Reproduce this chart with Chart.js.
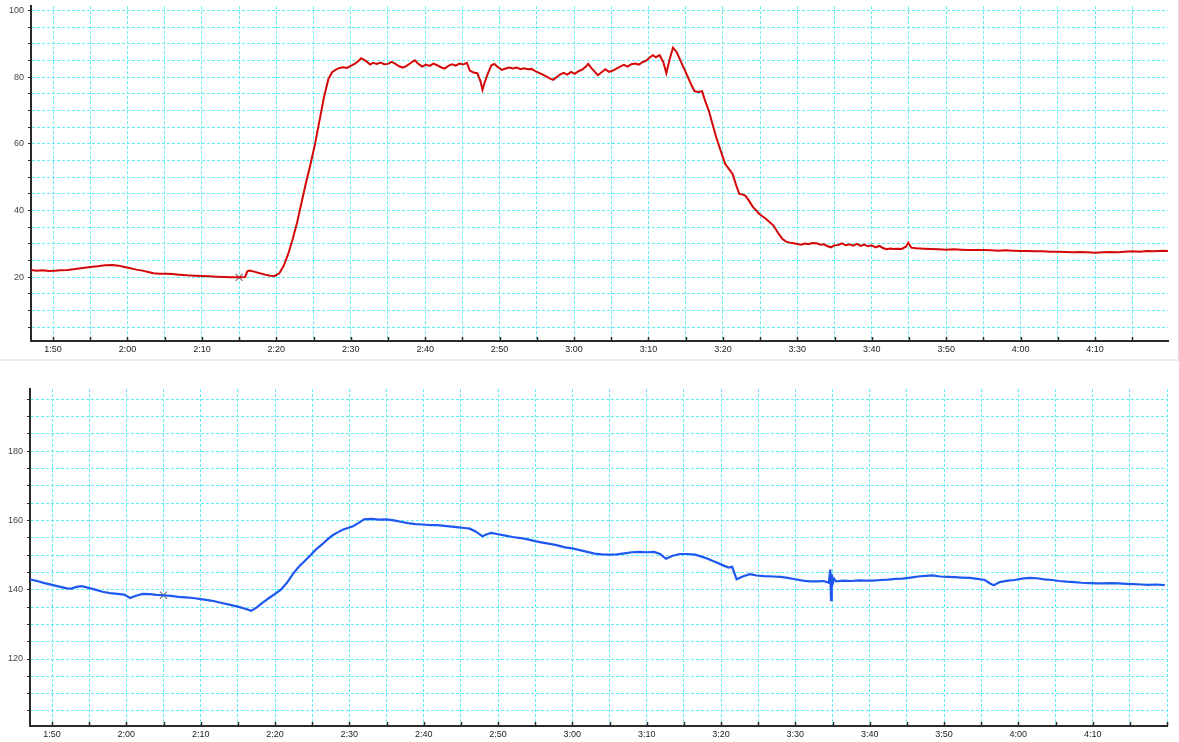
<!DOCTYPE html>
<html>
<head>
<meta charset="utf-8">
<script src="https://cdn.jsdelivr.net/npm/chart.js@4"></script>
<style>
  html, body { margin: 0; padding: 0; background: #fff; }
  #page { position: relative; width: 1179px; height: 742px; overflow: hidden; }
  #topPanel { position: absolute; left: 0; top: 0; width: 1178px; height: 359px;
              border-right: 1px solid #dcdcdc; border-bottom: 2px solid #ececec; }
  #topChart { position: absolute; left: 0; top: 0; }
  #bottomChart { position: absolute; left: 0; top: 362px; }
</style>
</head>
<body>
<div id="page">
  <div id="topPanel"><canvas id="topChart" width="1178" height="358"></canvas></div>
  <canvas id="bottomChart" width="1179" height="380"></canvas>
</div>
<script>
// Time axis labels (h:mm), one every 10 minutes
const timeLabels = ['1:50', '2:00', '2:10', '2:20', '2:30', '2:40', '2:50', '3:00',
                    '3:10', '3:20', '3:30', '3:40', '3:50', '4:00', '4:10'];
// Value axis labels
const upperAxisLabels = [20, 40, 60, 80, 100];
const lowerAxisLabels = [120, 140, 160, 180];

// Upper trace: minutes after midnight / reading
const redMinutes = [
  107.0, 107.8, 108.6, 109.4, 110.2, 111.0, 112.0, 113.0, 114.0, 115.0, 116.0, 117.0, 118.0, 118.8, 119.6,
  120.4, 121.2, 122.0, 122.8, 123.5, 124.3, 125.2, 126.0, 127.0, 128.0, 129.0, 130.0, 131.0, 132.0, 133.0,
  134.0, 135.0, 135.8, 136.1, 136.4, 137.0, 137.8, 138.5, 139.2, 139.8, 140.4, 141.0, 141.6, 142.2, 142.8,
  143.4, 144.0, 144.6, 145.2, 145.8, 146.4, 147.0, 147.5, 148.0, 148.5, 149.0, 149.5, 150.0, 150.5, 151.0,
  151.4, 151.8, 152.2, 152.6, 153.0, 153.5, 154.0, 154.5, 155.0, 155.5, 156.0, 156.5, 157.0, 157.5, 158.0,
  158.6, 159.1, 159.6, 160.1, 160.6, 161.1, 161.6, 162.1, 162.6, 163.1, 163.6, 164.1, 164.6, 165.1, 165.6,
  166.0, 166.5, 167.0, 167.4, 167.7, 168.0, 168.4, 168.9, 169.3, 169.8, 170.3, 170.8, 171.3, 171.8, 172.3,
  172.8, 173.3, 173.8, 174.3, 174.8, 175.3, 175.8, 176.3, 176.8, 177.2, 177.6, 178.1, 178.6, 179.1, 179.6,
  180.1, 180.6, 181.1, 181.6, 181.9, 182.3, 182.8, 183.2, 183.7, 184.2, 184.7, 185.2, 185.7, 186.2, 186.7,
  187.2, 187.7, 188.2, 188.7, 189.2, 189.7, 190.2, 190.6, 191.0, 191.5, 192.0, 192.4, 192.8, 193.3, 193.8,
  194.3, 194.8, 195.3, 195.8, 196.2, 196.7, 197.2, 197.6, 198.1, 198.6, 199.1, 199.7, 200.3, 200.8, 201.3,
  201.8, 202.2, 202.7, 203.0, 203.5, 204.0, 204.9, 205.8, 206.8, 207.5, 208.0, 208.5, 209.0, 209.5, 210.0,
  210.5, 211.0, 211.5, 212.0, 212.6, 213.1, 213.6, 214.0, 214.5, 215.0, 215.5, 216.0, 216.5, 217.0, 217.5,
  218.0, 218.5, 219.0, 219.5, 220.0, 220.5, 221.0, 221.5, 222.0, 222.5, 223.0, 223.5, 224.0, 224.6, 224.9,
  225.3, 226.0, 227.0, 228.0, 229.0, 230.0, 231.0, 232.0, 233.0, 234.0, 235.0, 236.0, 237.0, 238.0, 239.0,
  240.0, 241.0, 242.0, 243.0, 244.0, 245.0, 246.0, 247.0, 248.0, 249.0, 250.0, 251.0, 252.0, 253.0, 254.0,
  255.0, 256.0, 257.0, 258.0, 259.0, 259.8
];
const redValues = [
  22.2, 22.0, 22.1, 21.9, 22.0, 22.1, 22.2, 22.5, 22.8, 23.1, 23.3, 23.6, 23.7, 23.5, 23.1,
  22.7, 22.3, 22.0, 21.6, 21.2, 21.1, 21.1, 21.0, 20.8, 20.6, 20.5, 20.4, 20.3, 20.2, 20.1,
  20.0, 20.0, 20.1, 21.8, 22.0, 21.7, 21.2, 20.8, 20.5, 20.4, 21.2, 23.5, 27.0, 31.5, 36.5,
  42.5, 48.5, 54.0, 60.0, 67.0, 74.0, 79.5, 81.5, 82.3, 82.8, 83.0, 82.8, 83.4, 84.0, 84.8,
  85.7, 85.2, 84.6, 83.8, 84.3, 84.0, 84.4, 83.9, 84.0, 84.6, 84.0, 83.3, 82.9, 83.4, 84.2,
  85.1, 84.0, 83.2, 83.8, 83.4, 84.1, 83.6, 83.0, 82.6, 83.4, 83.9, 83.5, 84.1, 83.8, 84.3,
  82.0, 81.4, 81.2, 79.0, 76.2, 78.5, 81.0, 83.6, 84.0, 83.0, 82.2, 82.6, 82.9, 82.6, 82.9,
  82.4, 82.7, 82.4, 82.5, 81.8, 81.3, 80.8, 80.2, 79.6, 79.2, 79.9, 80.8, 81.3, 80.8, 81.6,
  81.0, 81.8, 82.3, 83.2, 84.0, 82.8, 81.6, 80.6, 81.5, 82.4, 81.6, 82.0, 82.6, 83.2, 83.7,
  83.2, 83.9, 84.1, 83.8, 84.5, 85.0, 86.0, 86.6, 86.0, 86.6, 84.5, 81.2, 85.0, 88.9, 87.5,
  85.0, 82.5, 80.0, 77.5, 75.8, 75.6, 75.8, 73.0, 70.0, 66.0, 62.0, 58.0, 54.0, 52.5, 51.0,
  47.5, 45.0, 44.8, 44.5, 43.0, 41.2, 39.0, 37.5, 35.5, 33.0, 31.5, 30.7, 30.4, 30.2, 30.0,
  29.8, 30.1, 29.9, 30.3, 30.2, 29.8, 29.9, 29.4, 29.0, 29.6, 29.7, 30.2, 29.6, 29.9, 29.5,
  30.0, 29.4, 29.8, 29.3, 29.6, 29.0, 29.4, 28.8, 28.4, 28.6, 28.5, 28.6, 28.5, 29.2, 30.4,
  28.9, 28.7, 28.6, 28.5, 28.4, 28.3, 28.4, 28.3, 28.2, 28.2, 28.2, 28.1, 28.0, 28.1, 28.0,
  27.9, 27.9, 27.8, 27.8, 27.7, 27.7, 27.6, 27.5, 27.6, 27.5, 27.4, 27.5, 27.6, 27.5, 27.7,
  27.8, 27.7, 27.9, 27.8, 28.0, 27.9
];

// Lower trace: minutes after midnight / reading
const blueMinutes = [
  107.0, 108.0, 109.0, 110.0, 111.0, 112.0, 112.6, 113.3, 114.0, 114.8, 115.8, 116.8, 117.8, 118.8, 119.7,
  120.5, 121.2, 122.2, 123.2, 124.0, 125.0, 126.0, 127.0, 128.0, 129.0, 130.0, 131.0, 132.0, 133.0, 134.0,
  135.0, 136.0, 136.8, 137.5, 138.3, 139.2, 140.0, 140.8, 141.6, 142.4, 143.2, 144.0, 144.8, 145.6, 146.4,
  147.1, 147.8, 148.5, 149.1, 149.8, 150.5, 151.2, 152.0, 153.0, 154.0, 155.0, 156.0, 156.9, 157.9, 158.9,
  159.9, 160.9, 161.8, 162.8, 163.8, 164.7, 165.5, 166.2, 167.0, 167.9, 168.5, 169.1, 170.0, 171.0, 172.0,
  173.0, 174.0, 175.0, 176.0, 177.0, 178.0, 179.0, 180.0, 181.0, 182.0, 183.0, 184.0, 185.0, 186.0, 187.0,
  188.0, 189.0, 190.0, 191.0, 191.8, 192.6, 193.5, 194.5, 195.5, 196.5, 197.3, 198.2, 199.0, 200.0, 201.0,
  201.5, 202.1, 203.0, 203.9, 204.8, 205.8, 207.0, 208.0, 209.0, 210.0, 211.0, 212.0, 213.0, 213.8, 214.5,
  214.7, 214.8, 214.9, 215.0, 215.2, 215.5, 216.5, 217.5, 218.5, 219.5, 220.5, 221.5, 222.5, 223.5, 224.4,
  225.5, 226.5, 227.5, 228.4, 229.5, 230.5, 231.5, 232.3, 233.5, 234.5, 235.5, 236.2, 236.7, 237.5, 238.6,
  239.5, 240.5, 241.5, 242.5, 243.5, 244.5, 245.5, 246.5, 247.5, 248.5, 249.5, 250.5, 251.5, 252.5, 253.5,
  254.5, 255.5, 256.5, 257.5, 258.5, 259.7
];
const blueValues = [
  143.0, 142.5, 141.9, 141.4, 140.9, 140.4, 140.3, 140.8, 141.0, 140.6, 140.0, 139.4, 139.0, 138.8, 138.6,
  137.6, 138.2, 138.8, 138.7, 138.5, 138.4, 138.2, 137.9, 137.8, 137.6, 137.3, 137.0, 136.6, 136.1, 135.6,
  135.1, 134.5, 133.9, 134.8, 136.2, 137.6, 138.8, 140.0, 142.0, 144.5, 146.6, 148.3, 150.0, 151.8, 153.2,
  154.6, 155.8, 156.6, 157.3, 157.8, 158.3, 159.2, 160.3, 160.4, 160.2, 160.3, 160.0, 159.6, 159.2, 158.9,
  158.8, 158.6, 158.6, 158.4, 158.2, 158.0, 157.8, 157.6, 156.8, 155.4, 156.0, 156.4, 156.0, 155.6, 155.2,
  154.9, 154.5, 154.0, 153.6, 153.2, 152.8, 152.2, 151.9, 151.4, 150.9, 150.4, 150.2, 150.1, 150.2, 150.5,
  150.8, 150.9, 150.8, 150.9, 150.3, 148.9, 149.8, 150.3, 150.3, 150.1, 149.6, 148.9, 148.2, 147.3, 146.4,
  146.6, 143.0, 143.9, 144.5, 144.1, 143.9, 143.8, 143.7, 143.4, 143.0, 142.6, 142.4, 142.4, 142.5, 142.0,
  145.8, 137.0, 144.5, 141.5, 143.2, 142.4, 142.6, 142.5, 142.7, 142.6, 142.6, 142.8, 142.9, 143.1, 143.2,
  143.5, 143.8, 144.0, 144.1, 143.8, 143.7, 143.6, 143.5, 143.4, 143.1, 142.8, 141.8, 141.3, 142.2, 142.6,
  142.8, 143.2, 143.4, 143.3, 143.0, 142.8, 142.5, 142.3, 142.2, 142.0, 141.9, 141.8, 141.8, 141.9, 141.8,
  141.7, 141.6, 141.5, 141.4, 141.5, 141.3
];

// Event markers (minute, reading)
const redMarker = { minute: 135, value: 20.0 };
const blueMarker = { minute: 125, value: 138.4 };

const GRID = 'rgb(96, 238, 244)';
const AXIS = '#2a2a2a';
const FONT = '"Liberation Sans", Arial, sans-serif';

function toMinutes(label) {
  const [h, m] = label.split(':').map(Number);
  return h * 60 + m;
}
const labelByMinute = new Map(timeLabels.map(l => [toMinutes(l), l]));

// Short tick marks on the inside of the time axis
const innerTimeTicks = {
  id: 'innerTimeTicks',
  afterDatasetsDraw(chart) {
    const xs = chart.scales.x;
    const ctx = chart.ctx;
    ctx.save();
    ctx.strokeStyle = AXIS;
    ctx.lineWidth = 1.5;
    xs.ticks.forEach(t => {
      const px = Math.round(xs.getPixelForValue(t.value)) + 0.5;
      ctx.beginPath();
      ctx.moveTo(px, xs.top);
      ctx.lineTo(px, xs.top - 4);
      ctx.stroke();
    });
    ctx.restore();
  }
};

function makeChart(canvasId, minutes, values, color, width, marker, yMin, yMax, yLabels, cfg) {
  const points = minutes.map((m, i) => ({ x: m, y: values[i] }));
  return new Chart(document.getElementById(canvasId), {
    type: 'line',
    data: {
      datasets: [
        {
          data: points,
          borderColor: color,
          borderWidth: width,
          pointRadius: 0,
          tension: 0,
          fill: false
        },
        {
          data: [{ x: marker.minute, y: marker.value }],
          showLine: false,
          pointStyle: 'crossRot',
          pointRadius: 5,
          pointBorderColor: '#7a7a7a',
          pointBorderWidth: 1.2,
          pointBackgroundColor: '#7a7a7a'
        }
      ]
    },
    options: {
      responsive: false,
      animation: false,
      devicePixelRatio: 1,
      layout: { padding: cfg.padding },
      plugins: { legend: { display: false }, tooltip: { enabled: false } },
      scales: {
        x: {
          type: 'linear',
          min: 107.04,
          max: cfg.xMax,
          afterFit(scale) { scale.height = cfg.xHeight; scale.paddingLeft = 0; scale.paddingRight = 0; },
          grid: { color: GRID, lineWidth: 1, drawTicks: false },
          border: { color: AXIS, width: 2, dash: [3, 2] },
          ticks: {
            stepSize: 5,
            includeBounds: false,
            autoSkip: false,
            maxRotation: 0,
            maxTicksLimit: 1000,
            padding: 3,
            color: '#222',
            font: { family: FONT, size: 9 },
            callback: v => labelByMinute.get(Math.round(v)) || ''
          }
        },
        y: {
          min: yMin,
          max: yMax,
          afterFit(scale) { scale.width = cfg.yWidth; scale.paddingTop = 0; scale.paddingBottom = 0; },
          grid: { color: GRID, lineWidth: 1, tickLength: 3, tickColor: AXIS, tickWidth: 1.2 },
          border: { color: AXIS, width: 2, dash: [3, 2] },
          ticks: {
            stepSize: 5,
            includeBounds: false,
            maxTicksLimit: 1000,
            padding: 4,
            color: '#444',
            font: { family: FONT, size: 9 },
            callback: v => (yLabels.includes(Math.round(v)) ? String(Math.round(v)) : '')
          }
        }
      }
    },
    plugins: [innerTimeTicks]
  });
}

makeChart('topChart', redMinutes, redValues, '#d40808', 2.0, redMarker, 0.9, 101.3, upperAxisLabels,
  { padding: { top: 6, right: 10, left: 0, bottom: 0 }, xHeight: 17, yWidth: 31, xMax: 259.8 });
makeChart('bottomChart', blueMinutes, blueValues, '#1e58f0', 2.2, blueMarker, 100.67, 197.9, lowerAxisLabels,
  { padding: { top: 27, right: 12, left: 0, bottom: 0 }, xHeight: 16, yWidth: 30, xMax: 260.0 });
</script>
</body>
</html>
